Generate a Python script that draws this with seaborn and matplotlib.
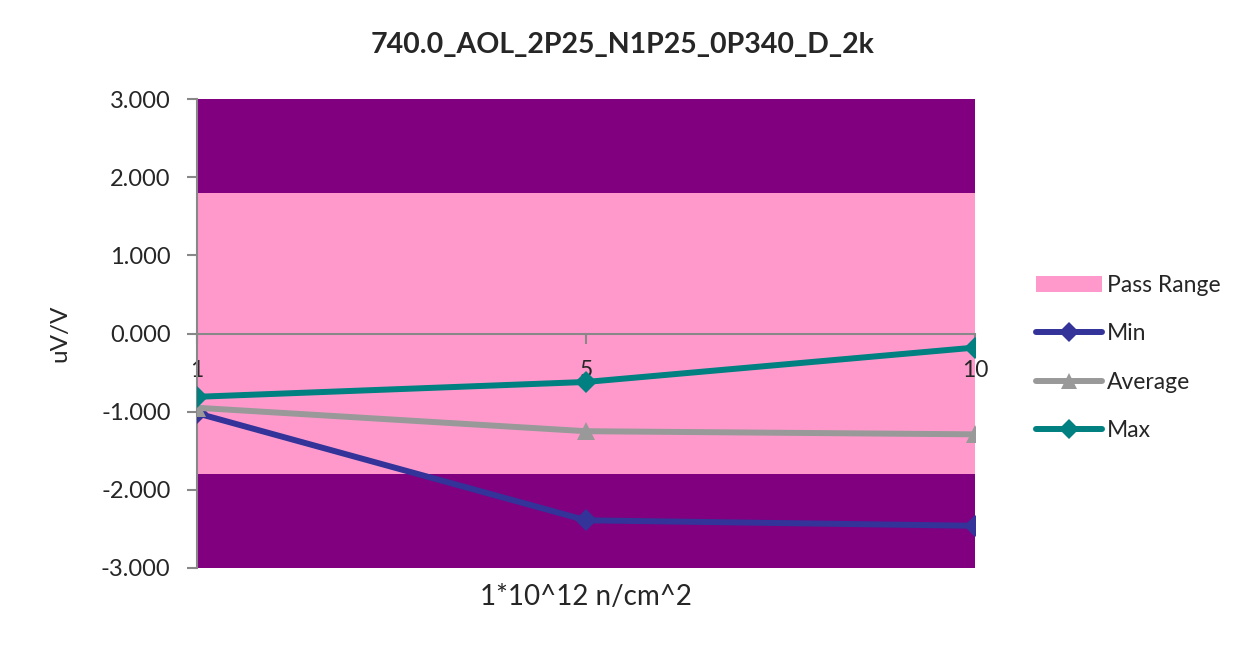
import matplotlib
matplotlib.use("Agg")
import matplotlib.pyplot as plt
import seaborn as sns
import pandas as pd
from matplotlib.patches import Patch
from matplotlib.lines import Line2D

categories = ["1", "5", "10"]
min_vals = [-1.02, -2.39, -2.46]
avg_vals = [-0.95, -1.25, -1.29]
max_vals = [-0.81, -0.62, -0.18]
pass_low, pass_high = -1.8, 1.8
y_min, y_max = -3.0, 3.0
title = "740.0_AOL_2P25_N1P25_0P340_D_2k"
xlabel = "1*10^12 n/cm^2"
ylabel = "uV/V"

sns.set_theme(style="white")
plt.rcParams['font.family'] = ['Lato', 'DejaVu Sans']

fig = plt.figure(figsize=(12.45, 6.46), dpi=100)
ax = fig.add_axes([197/1245, 1-568/646, (975-197)/1245, (568-99)/646])

ax.axhspan(y_min, pass_low, color="#800080", lw=0, zorder=0)
ax.axhspan(pass_high, y_max, color="#800080", lw=0, zorder=0)
ax.axhspan(pass_low, pass_high, color="#FF99CC", lw=0, zorder=0)

series = [("Min", min_vals, "#333399", "D", 11),
          ("Average", avg_vals, "#999999", "^", 13),
          ("Max", max_vals, "#008080", "D", 11)]
df = pd.DataFrame({"x": categories * 3,
                   "y": min_vals + avg_vals + max_vals,
                   "s": [s[0] for s in series for _ in categories]})
for name, vals, col, mk, ms in series:
    sub = df[df["s"] == name]
    sns.lineplot(data=sub, x="x", y="y", ax=ax, color=col, marker=mk,
                 markersize=ms, markeredgewidth=0, linewidth=4.3,
                 sort=False, legend=False, zorder=3)

ax.set_xlim(0, len(categories) - 1)
ax.set_ylim(y_min, y_max)
ax.set_yticks([-3, -2, -1, 0, 1, 2, 3])
ax.set_yticklabels([f"{v:.3f}" for v in [-3, -2, -1, 0, 1, 2, 3]], fontsize=17)

for s in ["top", "right"]:
    ax.spines[s].set_visible(False)
ax.spines["bottom"].set_position(("data", 0))
ax.spines["bottom"].set_color("#888888")
ax.spines["left"].set_color("#888888")
ax.spines["bottom"].set_linewidth(1.5)
ax.spines["left"].set_linewidth(1.5)
ax.spines["bottom"].set_zorder(2)
ax.tick_params(axis="y", direction="out", length=7, width=1.5, color="#888888", left=True, pad=12)
ax.tick_params(axis="x", direction="out", length=7, width=1.5, color="#888888", bottom=True,
               labelsize=16.5, pad=12)

ax.set_xlabel("")
ax.set_ylabel(ylabel, fontsize=17.5, labelpad=22)
fig.text((197+975)/2/1245, 1-597/646, xlabel, ha="center", va="center", fontsize=20)
fig.text(0.5, 1-45/646, title, ha="center", va="center", fontsize=20.5, fontweight="bold")

handles = [Patch(facecolor="#FF99CC", edgecolor="none"),
           Line2D([], [], color="#333399", marker="D", ms=10, mew=0, lw=4.3, solid_capstyle="round"),
           Line2D([], [], color="#999999", marker="^", ms=11, mew=0, lw=4.3, solid_capstyle="round"),
           Line2D([], [], color="#008080", marker="D", ms=10, mew=0, lw=4.3, solid_capstyle="round")]
labels = ["Pass Range", "Min", "Average", "Max"]
fig.legend(handles, labels, loc="center left", bbox_to_anchor=(1015/1245, 1-358/646),
           frameon=False, fontsize=16.5, labelspacing=1.2, handlelength=2.9, handletextpad=0.2)

fig.savefig("out.png", dpi=100)
